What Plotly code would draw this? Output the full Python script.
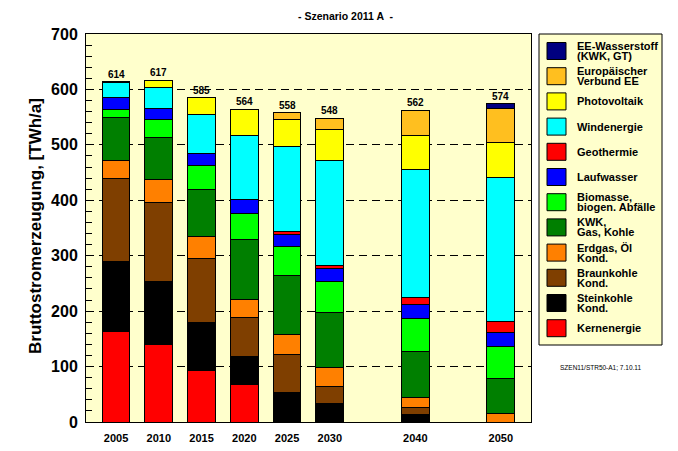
import plotly.graph_objects as go

years = [2005, 2010, 2015, 2020, 2025, 2030, 2040, 2050]
year_labels = ["2005", "2010", "2015", "2020", "2025", "2030", "2040", "2050"]

# series, bottom to top of each stack
kernenergie = [163, 140, 93, 67, 0, 0, 0, 0]
steinkohle = [127, 114, 86, 51, 54, 34, 14, 0]
braunkohle = [150, 142, 116, 70, 67, 30, 12, 0]
erdgas = [32, 41, 40, 33, 36, 35, 19, 15]
kwk = [78, 77, 85, 108, 107, 98, 82, 63]
biomasse = [14, 32, 43, 48, 53, 56, 59, 59]
laufwasser = [21, 20, 22, 24, 22, 24, 26, 24]
geothermie = [0, 0, 0, 0, 5, 5, 13, 20]
windenergie = [28, 38, 70, 115, 153, 190, 231, 260]
photovoltaik = [1, 13, 30, 48, 49, 56, 60, 63]
eu_verbund = [0, 0, 0, 0, 12, 20, 46, 61]
ee_wasserstoff = [0, 0, 0, 0, 0, 0, 0, 9]

series_names = [
    "Kernenergie",
    "Steinkohle<br>Kond.",
    "Braunkohle<br>Kond.",
    "Erdgas, Öl<br>Kond.",
    "KWK,<br>Gas, Kohle",
    "Biomasse,<br>biogen. Abfälle",
    "Laufwasser",
    "Geothermie",
    "Windenergie",
    "Photovoltaik",
    "Europäischer<br>Verbund EE",
    "EE-Wasserstoff<br>(KWK, GT)",
]
series_values = [kernenergie, steinkohle, braunkohle, erdgas, kwk, biomasse,
                 laufwasser, geothermie, windenergie, photovoltaik, eu_verbund,
                 ee_wasserstoff]
series_colors = ["#FF0000", "#000000", "#7F3F00", "#FF8000", "#007F00", "#00FF00",
                 "#0000FF", "#FF0000", "#00FFFF", "#FFFF00", "#FFBF1F", "#000080"]

# page has an 8px body margin: the figure is placed at (8, 8)
OFF = 8
W, H = 678 - OFF, 451 - OFF
L, R, T, B = 86, 531, 34, 422   # plot area in screen pixels
FONT = "Liberation Sans, Arial, sans-serif"
BG = "#FFFFCC"

fig = go.Figure()
for name, vals, col in zip(series_names, series_values, series_colors):
    fig.add_trace(go.Bar(
        x=years, y=vals, name=name, width=3.25,
        marker=dict(color=col, line=dict(color="black", width=1)),
        showlegend=False,
    ))

totals = [sum(v[i] for v in series_values) for i in range(len(years))]

def px2x(px):
    return (px - L) / (R - L)

def py2y(py):
    return (B - py) / (B - T)

annotations = []
for yr, tot in zip(years, totals):
    annotations.append(dict(x=yr, y=tot, xref="x", yref="y", text=str(tot),
                            showarrow=False, xanchor="center", yanchor="bottom", yshift=0,
                            font=dict(family=FONT, size=10, color="black", weight="bold")))

# title
annotations.append(dict(x=px2x(345), y=py2y(16.5), xref="paper", yref="paper",
                        xanchor="center", yanchor="middle",
                        text="- Szenario 2011 A \u00a0-", showarrow=False,
                        font=dict(family=FONT, size=10.5, color="black", weight="bold")))
# y title
annotations.append(dict(x=px2x(35), y=py2y(226), xref="paper", yref="paper",
                        xanchor="center", yanchor="middle",
                        text="Bruttostromerzeugung, [TWh/a]", textangle=-90, showarrow=False,
                        font=dict(family=FONT, size=17, color="black", weight="bold")))
# footnote
annotations.append(dict(x=px2x(600), y=py2y(367), xref="paper", yref="paper",
                        xanchor="center", yanchor="middle",
                        text="SZEN11/STR50-A1; 7.10.11", showarrow=False,
                        font=dict(family=FONT, size=6.5, color="black")))

shapes = []
# legend box
shapes.append(dict(type="rect", xref="paper", yref="paper",
                   x0=px2x(539), x1=px2x(662), y0=py2y(345), y1=py2y(34),
                   fillcolor=BG, line=dict(color="black", width=1), layer="below"))
n = len(series_names)
for k in range(n):
    idx = n - 1 - k  # top entry is the top series
    cy = 51 + 25.2 * k
    shapes.append(dict(type="rect", xref="paper", yref="paper",
                       x0=px2x(547), x1=px2x(566), y0=py2y(cy + 8.5), y1=py2y(cy - 8.5),
                       fillcolor=series_colors[idx], line=dict(color="black", width=1)))
    lines = series_names[idx].split("<br>")
    offs = [0] if len(lines) == 1 else [-5, 5]
    for line, o in zip(lines, offs):
        annotations.append(dict(x=px2x(575), y=py2y(cy + o), xref="paper", yref="paper",
                                text=line, showarrow=False, xanchor="left", yanchor="middle",
                                font=dict(family=FONT, size=11, color="black", weight="bold")))

fig.update_layout(
    width=W, height=H,
    margin=dict(l=L - OFF, r=W - (R - OFF), t=T - OFF, b=H - (B - OFF), pad=0,
                autoexpand=False),
    barmode="stack",
    plot_bgcolor=BG, paper_bgcolor="white",
    font=dict(family=FONT, color="black"),
    annotations=annotations, shapes=shapes,
    xaxis=dict(range=[2001.49, 2053.53], tickvals=years, ticktext=year_labels,
               automargin=False,
               showgrid=False, zeroline=False, ticks="",
               showline=True, mirror=True, linecolor="black", linewidth=1,
               tickfont=dict(family=FONT, size=11, color="black", weight="bold"),
               ticklabelstandoff=6),
    yaxis=dict(range=[0, 700], dtick=100, tick0=0, automargin=False,
               showgrid=True, gridcolor="black", gridwidth=1, griddash="8px,5px",
               zeroline=False, ticks="inside", ticklen=6, tickcolor="black",
               showline=True, mirror=True, linecolor="black", linewidth=1,
               minor=dict(dtick=20, ticks="inside", ticklen=6, tickcolor="black", showgrid=False),
               tickfont=dict(family=FONT, size=16, color="black", weight="bold"),
               ticklabelstandoff=4),
)

fig.write_html("out.html")
